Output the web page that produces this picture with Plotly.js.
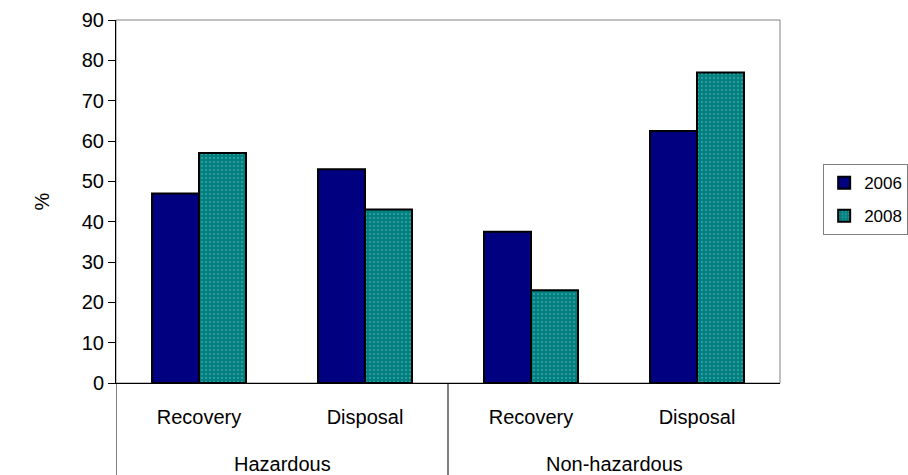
<!DOCTYPE html>
<html>
<head>
<meta charset="utf-8">
<script src="https://cdn.plot.ly/plotly-3.0.1.min.js"></script>
<style>html,body{margin:0;padding:0;background:#fff;}#chart{width:908px;height:475px;}</style>
</head>
<body>
<div id="chart"></div>
<script>
const groups = ["Hazardous", "Hazardous", "Non-hazardous", "Non-hazardous"];
const treatments = ["Recovery", "Disposal", "Recovery", "Disposal"];
const values2006 = [47, 53, 37.5, 62.5];
const values2008 = [57, 43, 23, 77];
const seriesNames = ["2006", "2008"];
const groupNames = ["Hazardous", "Non-hazardous"];

const xKeys = groups.map((g, i) => g + " | " + treatments[i]);

const traces = [
  {
    type: "bar", name: seriesNames[0], legendgroup: "a", x: xKeys, y: values2006,
    marker: {color: "#000080", line: {color: "#000000", width: 2}}
  },
  {
    type: "bar", name: seriesNames[1], legendgroup: "b", x: xKeys, y: values2008,
    marker: {color: "#008080", line: {color: "#000000", width: 2},
      pattern: {shape: ".", fgcolor: "#7cc4c4", bgcolor: "#008080", size: 4, solidity: 0.1}}
  }
];

// group labels centred under each pair of categories
const groupAnnotations = groupNames.map((g, k) => ({
  xref: "x", yref: "paper", x: 2 * k + 0.5, y: -0.223,
  text: g, showarrow: false, xanchor: "center", yanchor: "middle",
  font: {size: 20, color: "#000"}
}));

const layout = {
  width: 908, height: 475,
  margin: {l: 116, r: 128, t: 20, b: 92, pad: 0, autoexpand: false},
  paper_bgcolor: "#ffffff", plot_bgcolor: "#ffffff",
  font: {family: "Liberation Sans, Arial, sans-serif", size: 20, color: "#000"},
  bargap: 0.434, bargroupgap: 0,
  showlegend: true,
  legend: {x: 1.065, y: 0.603, xanchor: "left", yanchor: "top",
    traceorder: "grouped", tracegroupgap: 8,
    bordercolor: "#808080", borderwidth: 1, font: {size: 17}, itemwidth: 30},
  xaxis: {
    type: "category", showline: true, linecolor: "#000", linewidth: 1, automargin: false,
    ticks: "", tickvals: xKeys, ticktext: treatments, ticklabelstandoff: 16,
    tickfont: {size: 20}, showgrid: false, zeroline: false, range: [-0.5, 3.5]
  },
  yaxis: {
    range: [0, 90], dtick: 10, ticks: "outside", ticklen: 7, tickcolor: "#000", automargin: false,
    showline: true, linecolor: "#000", linewidth: 1, showgrid: false, zeroline: false,
    tickfont: {size: 20},
    title: {text: "%", font: {size: 20}, standoff: 26}
  },
  annotations: groupAnnotations,
  shapes: [
    {type: "rect", xref: "paper", yref: "paper", x0: 0, x1: 1, y0: 0, y1: 1,
     line: {color: "#808080", width: 1}, layer: "below"},
    {type: "line", xref: "x", yref: "paper", x0: -0.5, x1: -0.5, y0: 0, y1: -0.3,
     line: {color: "#000", width: 1}},
    {type: "line", xref: "x", yref: "paper", x0: 1.5, x1: 1.5, y0: 0, y1: -0.3,
     line: {color: "#000", width: 1}}
  ]
};

Plotly.newPlot("chart", traces, layout, {displayModeBar: false, staticPlot: true});
</script>
</body>
</html>
